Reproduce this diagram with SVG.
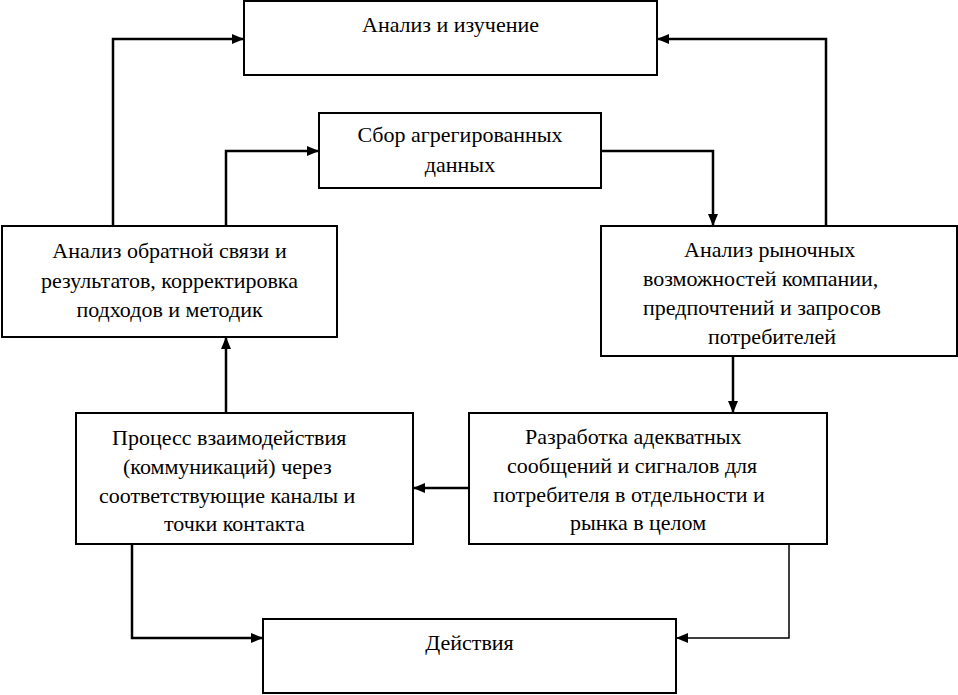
<svg xmlns="http://www.w3.org/2000/svg" width="958" height="695" viewBox="0 0 958 695">
<defs>
<marker id="ah" viewBox="0 0 12 10" refX="12" refY="5" markerWidth="12" markerHeight="10" markerUnits="userSpaceOnUse" orient="auto">
<path d="M0,0 L12,5 L0,10 Z" fill="#000"/>
</marker>
</defs>
<rect width="958" height="695" fill="#fff"/>
<g id="connectors" fill="none" stroke="#000" stroke-width="2.5">
<path d="M113,226 V39 H244" marker-end="url(#ah)"/>
<path d="M826,226 V39 H657" marker-end="url(#ah)"/>
<path d="M226,226 V151 H319" marker-end="url(#ah)"/>
<path d="M601,151 H713 V226" marker-end="url(#ah)"/>
<path d="M733,356 V413" marker-end="url(#ah)"/>
<path d="M226,413 V337" marker-end="url(#ah)"/>
<path d="M469,488 H413" marker-end="url(#ah)"/>
<path d="M132,544 V638 H263" marker-end="url(#ah)"/>
<path d="M789,544 V638 H676" stroke-width="1.5" marker-end="url(#ah)"/>
</g>
<g id="n1">
<rect x="244" y="1" width="413" height="74" fill="#fff" stroke="#000" stroke-width="2"/>
<text font-family="Liberation Serif" font-size="22" text-anchor="middle" x="450.5" y="32">Анализ и изучение</text>
</g>
<g id="n2">
<rect x="319" y="113" width="282" height="75" fill="#fff" stroke="#000" stroke-width="2"/>
<text font-family="Liberation Serif" font-size="22" text-anchor="middle" x="460" y="142">Сбор агрегированных</text>
<text font-family="Liberation Serif" font-size="22" text-anchor="middle" x="460" y="172">данных</text>
</g>
<g id="n3">
<rect x="2" y="226" width="335" height="111" fill="#fff" stroke="#000" stroke-width="2"/>
<text font-family="Liberation Serif" font-size="22" text-anchor="middle" x="169.5" y="258">Анализ обратной связи и</text>
<text font-family="Liberation Serif" font-size="22" text-anchor="middle" x="169.5" y="288">результатов, корректировка</text>
<text font-family="Liberation Serif" font-size="22" text-anchor="middle" x="169.5" y="317">подходов и методик</text>
</g>
<g id="n4">
<rect x="601" y="226" width="356" height="130" fill="#fff" stroke="#000" stroke-width="2"/>
<text font-family="Liberation Serif" font-size="22" x="684" y="257">Анализ рыночных</text>
<text font-family="Liberation Serif" font-size="22" x="643" y="286">возможностей компании,</text>
<text font-family="Liberation Serif" font-size="22" x="643" y="315">предпочтений и запросов</text>
<text font-family="Liberation Serif" font-size="22" x="708" y="344">потребителей</text>
</g>
<g id="n5">
<rect x="76" y="413" width="337" height="131" fill="#fff" stroke="#000" stroke-width="2"/>
<text font-family="Liberation Serif" font-size="22" x="112" y="445">Процесс взаимодействия</text>
<text font-family="Liberation Serif" font-size="22" x="123" y="474">(коммуникаций) через</text>
<text font-family="Liberation Serif" font-size="22" x="99" y="503">соответствующие каналы и</text>
<text font-family="Liberation Serif" font-size="22" x="164" y="531">точки контакта</text>
</g>
<g id="n6">
<rect x="469" y="413" width="358" height="131" fill="#fff" stroke="#000" stroke-width="2"/>
<text font-family="Liberation Serif" font-size="22" x="525" y="444">Разработка адекватных</text>
<text font-family="Liberation Serif" font-size="22" x="507" y="473">сообщений и сигналов для</text>
<text font-family="Liberation Serif" font-size="22" x="493" y="502">потребителя в отдельности и</text>
<text font-family="Liberation Serif" font-size="22" x="570" y="530">рынка в целом</text>
</g>
<g id="n7">
<rect x="263" y="619" width="413" height="74" fill="#fff" stroke="#000" stroke-width="2"/>
<text font-family="Liberation Serif" font-size="22" text-anchor="middle" x="469.5" y="650">Действия</text>
</g>
</svg>
